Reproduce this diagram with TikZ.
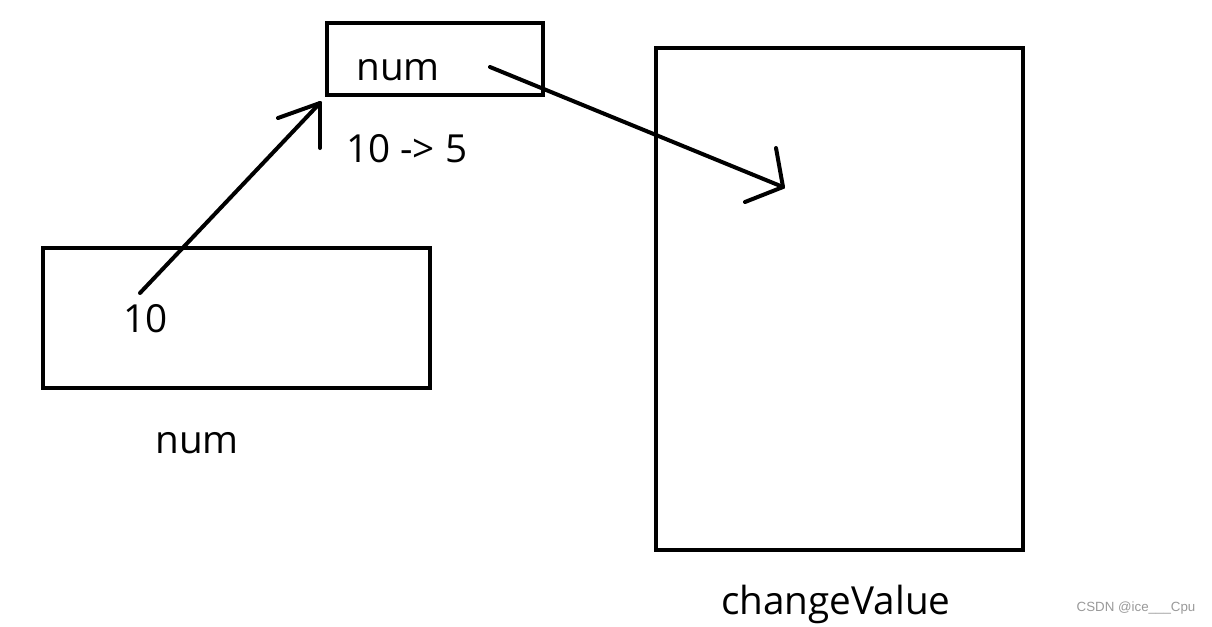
\documentclass[tikz,border=0pt]{standalone}
\usepackage{fontspec}
\setmainfont{Open Sans}
\newfontfamily\markfont{Liberation Sans}

\begin{document}
\begin{tikzpicture}[x=0.75pt,y=-0.75pt]
   \tikzset{BoxStyle/.style={draw,line width=3pt,inner sep=0pt}}
   \tikzset{TextStyle/.style={font=\fontsize{29}{33}\selectfont,inner sep=0pt,anchor=base west}}
   \tikzset{PenStyle/.style={line width=3pt,line cap=round,line join=round}}
   \useasboundingbox (0,0) rectangle (1212,626);
   % the three boxes
   \node[BoxStyle,minimum width=162pt,minimum height=54pt] (numbox) at (435,59) {};
   \node[BoxStyle,minimum width=290.25pt,minimum height=105pt] (mainbox) at (236.5,318) {};
   \node[BoxStyle,minimum width=275.25pt,minimum height=376.5pt] (funcbox) at (839.5,299) {};
   % texts
   \node[TextStyle] (numtop) at (356,80) {num};
   \node[TextStyle] (change) at (346,162) {10 -> 5};
   \node[TextStyle] (ten) at (123,332) {10};
   \node[TextStyle] (nummain) at (155,453) {num};
   \node[TextStyle] (funcname) at (721,614) {changeValue};
   \node[font=\markfont\fontsize{10}{12}\selectfont,text=black!40,inner sep=0pt] (mark) at (1136,608) {CSDN @ice\_\_\_Cpu};
   % arrows
   \coordinate (a1) at (140,293);
   \coordinate (b1) at (320,103);
   \coordinate (a2) at (490,67);
   \coordinate (b2) at (783,187);
   \draw[PenStyle] (a1) -- (b1);
   \draw[PenStyle] (b1) -- ++(-42,15);
   \draw[PenStyle] (b1) -- ++(0,45);
   \draw[PenStyle] (a2) -- (b2);
   \draw[PenStyle] (b2) -- ++(-38,15);
   \draw[PenStyle] (b2) -- ++(-7,-39);
\end{tikzpicture}
\end{document}
